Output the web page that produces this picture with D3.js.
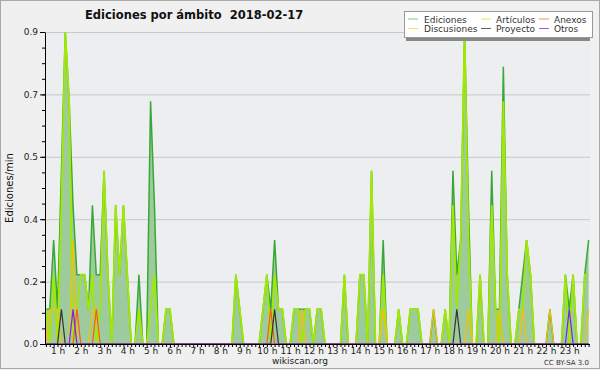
<!DOCTYPE html>
<html>
<head>
<meta charset="utf-8">
<script src="https://cdn.jsdelivr.net/npm/d3@7"></script>
<style>
  body { margin: 0; background: #f0f0f0; }
  svg { display: block; font-family: "DejaVu Sans", sans-serif; }
</style>
</head>
<body>
<svg width="600" height="370"></svg>
<script>
// edits per minute, one value per 10 minutes (6 per hour), 00:00 .. 23:20
var ediciones = [
  0.1, 0.1, 0.3, 0.1, 0.5, 0.9,
  0.7, 0.4, 0.2, 0.2, 0.2, 0.1,
  0.4, 0.2, 0.2, 0.5, 0.2, 0,
  0.4, 0.2, 0.4, 0.2, 0, 0,
  0.2, 0, 0, 0.7, 0.4, 0,
  0, 0.1, 0.1, 0, 0, 0,
  0, 0, 0, 0, 0, 0,
  0, 0, 0, 0, 0, 0,
  0, 0.2, 0.1, 0, 0, 0,
  0, 0, 0.1, 0.2, 0.1, 0.3,
  0.1, 0.1, 0, 0, 0.1, 0.1,
  0.1, 0.1, 0.1, 0, 0.1, 0.1,
  0, 0, 0, 0, 0, 0.2,
  0, 0, 0, 0.2, 0.2, 0,
  0.5, 0, 0, 0.3, 0, 0,
  0, 0.1, 0, 0, 0.1, 0.1,
  0.1, 0, 0, 0, 0.1, 0,
  0, 0.1, 0, 0.5, 0.2, 0.3,
  0.9, 0.4, 0, 0, 0.2, 0,
  0, 0.5, 0.1, 0.1, 0.8, 0.2,
  0, 0, 0.1, 0.2, 0.3, 0.2,
  0, 0, 0, 0, 0.1, 0,
  0, 0, 0.2, 0.1, 0.2, 0,
  0, 0.2, 0.3
];
var articulos = [
  0.1, 0, 0.2, 0, 0.4, 0.9,
  0.7, 0, 0.1, 0.2, 0.2, 0.1,
  0.2, 0, 0.1, 0.5, 0.2, 0,
  0.4, 0.2, 0.4, 0.2, 0, 0,
  0.1, 0, 0, 0.1, 0.2, 0,
  0, 0.1, 0.1, 0, 0, 0,
  0, 0, 0, 0, 0, 0,
  0, 0, 0, 0, 0, 0,
  0, 0.2, 0.1, 0, 0, 0,
  0, 0, 0.1, 0.2, 0, 0.2,
  0.1, 0.1, 0, 0, 0.1, 0.1,
  0, 0.1, 0.1, 0, 0.1, 0.1,
  0, 0, 0, 0, 0, 0.2,
  0, 0, 0, 0.2, 0.2, 0,
  0.5, 0, 0, 0.2, 0, 0,
  0, 0.1, 0, 0, 0.1, 0.1,
  0.1, 0, 0, 0, 0, 0,
  0, 0.1, 0, 0.4, 0.1, 0.3,
  0.9, 0.3, 0, 0, 0.2, 0,
  0, 0.4, 0.1, 0, 0.7, 0.2,
  0, 0, 0.1, 0.1, 0.3, 0.2,
  0, 0, 0, 0, 0, 0,
  0, 0, 0.2, 0, 0.2, 0,
  0, 0.2, 0.2
];
var discusiones = [
  0, 0.1, 0.1, 0.1, 0, 0,
  0, 0.3, 0, 0, 0, 0,
  0.1, 0.1, 0, 0, 0, 0,
  0, 0, 0, 0, 0, 0,
  0, 0, 0, 0, 0, 0,
  0, 0, 0, 0, 0, 0,
  0, 0, 0, 0, 0, 0,
  0, 0, 0, 0, 0, 0,
  0, 0, 0, 0, 0, 0,
  0, 0, 0, 0, 0, 0,
  0, 0, 0, 0, 0, 0,
  0.1, 0, 0, 0, 0, 0,
  0, 0, 0, 0, 0, 0,
  0, 0, 0, 0, 0, 0,
  0, 0, 0, 0.1, 0, 0,
  0, 0, 0, 0, 0, 0,
  0, 0, 0, 0, 0.1, 0,
  0, 0, 0, 0, 0, 0,
  0, 0.1, 0, 0, 0, 0,
  0, 0, 0, 0.1, 0, 0,
  0, 0, 0, 0.1, 0, 0,
  0, 0, 0, 0, 0.1, 0,
  0, 0, 0, 0, 0, 0,
  0, 0, 0.1
];
var anexos = [
  0, 0, 0, 0, 0, 0,
  0, 0, 0.1, 0, 0, 0,
  0, 0.1, 0, 0, 0, 0,
  0, 0, 0, 0, 0, 0,
  0, 0, 0, 0, 0, 0,
  0, 0, 0, 0, 0, 0,
  0, 0, 0, 0, 0, 0,
  0, 0, 0, 0, 0, 0,
  0, 0, 0, 0, 0, 0,
  0, 0, 0, 0, 0.1, 0,
  0, 0, 0, 0, 0, 0,
  0, 0, 0, 0, 0, 0,
  0, 0, 0, 0, 0, 0,
  0, 0, 0, 0, 0, 0,
  0, 0, 0, 0, 0, 0,
  0, 0, 0, 0, 0, 0,
  0, 0, 0, 0, 0, 0,
  0, 0, 0, 0, 0, 0,
  0, 0, 0, 0, 0, 0,
  0, 0, 0, 0, 0, 0,
  0, 0, 0, 0, 0, 0,
  0, 0, 0, 0, 0, 0,
  0, 0, 0, 0, 0, 0,
  0, 0, 0
];
var proyecto = [
  0, 0, 0, 0, 0.1, 0,
  0, 0, 0, 0, 0, 0,
  0, 0, 0, 0, 0, 0,
  0, 0, 0, 0, 0, 0,
  0, 0, 0, 0, 0, 0,
  0, 0, 0, 0, 0, 0,
  0, 0, 0, 0, 0, 0,
  0, 0, 0, 0, 0, 0,
  0, 0, 0, 0, 0, 0,
  0, 0, 0, 0, 0, 0.1,
  0, 0, 0, 0, 0, 0,
  0, 0, 0, 0, 0, 0,
  0, 0, 0, 0, 0, 0,
  0, 0, 0, 0, 0, 0,
  0, 0, 0, 0, 0, 0,
  0, 0, 0, 0, 0, 0,
  0, 0, 0, 0, 0, 0,
  0, 0, 0, 0, 0.1, 0,
  0, 0, 0, 0, 0, 0,
  0, 0, 0, 0, 0, 0,
  0, 0, 0, 0, 0, 0,
  0, 0, 0, 0, 0, 0,
  0, 0, 0, 0, 0, 0,
  0, 0, 0
];
var otros = [
  0, 0, 0, 0, 0, 0,
  0, 0.1, 0, 0, 0, 0,
  0, 0, 0, 0, 0, 0,
  0, 0, 0, 0, 0, 0,
  0, 0, 0, 0, 0, 0,
  0, 0, 0, 0, 0, 0,
  0, 0, 0, 0, 0, 0,
  0, 0, 0, 0, 0, 0,
  0, 0, 0, 0, 0, 0,
  0, 0, 0, 0, 0, 0,
  0, 0, 0, 0, 0, 0,
  0, 0, 0, 0, 0, 0,
  0, 0, 0, 0, 0, 0,
  0, 0, 0, 0, 0, 0,
  0, 0, 0, 0, 0, 0,
  0, 0, 0, 0, 0, 0,
  0, 0, 0, 0, 0, 0,
  0, 0, 0, 0, 0, 0,
  0, 0, 0, 0, 0, 0,
  0, 0, 0, 0, 0, 0,
  0, 0, 0, 0, 0, 0,
  0, 0, 0, 0, 0, 0,
  0, 0, 0, 0.1, 0, 0,
  0, 0, 0
];
var hourLabels = d3.range(1, 24).map(function (h) { return h + " h"; });
var yMax = 0.9;

var series = [
  { name: "Artículos", values: articulos, color: "#a2e800", key: "#c8f060" },
  { name: "Discusiones", values: discusiones, color: "#f7c000", key: "#ffd860" },
  { name: "Anexos", values: anexos, color: "#ff5a10", key: "#f09060" },
  { name: "Proyecto", values: proyecto, color: "#333333", key: "#606060" },
  { name: "Otros", values: otros, color: "#7a20ff", key: "#9a5cf0" }
];

var svg = d3.select("svg");
var width = +svg.attr("width");
var height = +svg.attr("height");
var plot = { left: 45, right: 590, top: 32, bottom: 344 };

svg.append("rect")
  .attr("x", 0.5).attr("y", 0.5)
  .attr("width", width - 1).attr("height", height - 2)
  .style("fill", "#f0f0f0")
  .style("stroke", "#a8a8a8");

svg.append("rect")
  .attr("x", plot.left).attr("y", plot.top)
  .attr("width", plot.right - plot.left).attr("height", plot.bottom - plot.top)
  .style("fill", "#eceef0");

// hours of the day; the drawing stops a little before midnight
var x = d3.scaleLinear().domain([0, 24]).range([45.9, 45.9 + 24 * 23.26]);
var y = d3.scaleLinear().domain([0, yMax]).range([plot.bottom, plot.top]);

var majorY = d3.range(0, 6).map(function (k) { return (k * yMax) / 5; });
var minorY = d3.range(0, 21).map(function (k) { return (k * yMax) / 20; });

svg.append("g")
  .attr("class", "grid")
  .attr("transform", "translate(" + plot.left + ",0)")
  .call(d3.axisLeft(y).tickValues(majorY).tickSize(-(plot.right - plot.left)).tickFormat(""))
  .call(function (g) {
    g.select(".domain").remove();
    g.selectAll("line").style("stroke", "#c8c8c8");
  });

svg.append("clipPath")
  .attr("id", "clip")
  .append("rect")
  .attr("x", plot.left).attr("y", 0)
  .attr("width", plot.right - plot.left).attr("height", plot.bottom);

var line = d3.line()
  .x(function (d, i) { return x(i / 6); })
  .y(function (d) { return y(d); });

var area = d3.area()
  .x(function (d, i) { return x(i / 6); })
  .y0(y(0))
  .y1(function (d) { return y(d); });

var canvas = svg.append("g").attr("clip-path", "url(#clip)");

canvas.append("path")
  .attr("d", area(ediciones))
  .style("fill", "#9ecb9e");

canvas.append("path")
  .attr("d", line(ediciones))
  .style("fill", "none")
  .style("stroke", "#38a838")
  .style("stroke-width", 1.5);

canvas.selectAll("path.serie")
  .data(series)
  .enter()
  .append("path")
  .classed("serie", true)
  .attr("d", function (d) { return line(d.values); })
  .style("fill", "none")
  .style("stroke", function (d) { return d.color; })
  .style("stroke-width", function (d, i) { return i == 0 ? 1.8 : 1.2; });

// axes
var xTicks = d3.range(0, 141).map(function (i) { return i / 6; });
svg.append("g")
  .attr("transform", "translate(0," + plot.bottom + ")")
  .call(d3.axisBottom(x).tickValues(xTicks).tickSize(3).tickSizeOuter(0).tickFormat(""))
  .call(function (g) {
    g.select(".domain").attr("d", "M" + plot.left + ",0.5H" + plot.right).style("stroke", "#000");
    g.selectAll("line").style("stroke", "#000");
  });

svg.append("g")
  .attr("transform", "translate(0," + plot.bottom + ")")
  .call(d3.axisBottom(x)
    .tickValues(hourLabels.map(function (t, i) { return i + 0.5; }))
    .tickSize(0)
    .tickPadding(4)
    .tickFormat(function (d, i) { return hourLabels[i]; }))
  .call(function (g) {
    g.select(".domain").remove();
    g.selectAll("text")
      .attr("dy", "0.71em")
      .style("font-family", "DejaVu Sans")
      .style("font-size", "9px")
      .style("fill", "#222");
  });

svg.append("g")
  .attr("transform", "translate(" + plot.left + ",0)")
  .call(d3.axisLeft(y).tickValues(minorY).tickSize(3).tickSizeOuter(0).tickFormat(""))
  .call(function (g) {
    g.selectAll("line").style("stroke", "#000");
    g.select(".domain").style("stroke", "#000");
  });

svg.append("g")
  .attr("transform", "translate(" + plot.left + ",0)")
  .call(d3.axisLeft(y).tickValues(majorY).tickSize(5).tickSizeOuter(0).tickPadding(2).tickFormat(d3.format(".1f")))
  .call(function (g) {
    g.select(".domain").remove();
    g.selectAll("line").style("stroke", "#000");
    g.selectAll("text")
      .style("font-family", "DejaVu Sans")
      .style("font-size", "9px")
      .style("fill", "#222");
  });

// texts
svg.append("text")
  .attr("x", 85).attr("y", 19)
  .style("font-size", "11.5px")
  .style("font-weight", "bold")
  .style("white-space", "pre")
  .style("fill", "#111")
  .text("Ediciones por ámbito  2018-02-17");

svg.append("text")
  .attr("transform", "translate(13," + (plot.top + plot.bottom) / 2 + ") rotate(-90)")
  .attr("text-anchor", "middle")
  .style("font-size", "10px")
  .style("fill", "#111")
  .text("Ediciones/min");

svg.append("text")
  .attr("x", 300).attr("y", 364)
  .attr("text-anchor", "middle")
  .style("font-size", "9px")
  .style("fill", "#222")
  .text("wikiscan.org");

svg.append("text")
  .attr("x", 589).attr("y", 365)
  .attr("text-anchor", "end")
  .style("font-size", "7px")
  .style("fill", "#333")
  .text("CC BY-SA 3.0");

// legend
var legendItems = [
  { name: "Ediciones", key: "#80d080" }
].concat(series.map(function (s) { return { name: s.name, key: s.key }; }));
var legendOrder = ["Ediciones", "Artículos", "Anexos", "Discusiones", "Proyecto", "Otros"];
legendItems.sort(function (a, b) { return legendOrder.indexOf(a.name) - legendOrder.indexOf(b.name); });

var legend = svg.append("g");
legend.append("rect")
  .attr("x", 406).attr("y", 14)
  .attr("width", 184).attr("height", 27)
  .style("fill", "#888");
legend.append("rect")
  .attr("x", 404.5).attr("y", 11.5)
  .attr("width", 188).attr("height", 26)
  .style("fill", "#fff")
  .style("stroke", "#999");

var colX = [408, 481, 539];
var item = legend.selectAll("g.item")
  .data(legendItems)
  .enter()
  .append("g")
  .attr("transform", function (d, i) {
    return "translate(" + colX[i % 3] + "," + (i < 3 ? 19 : 28.5) + ")";
  });
item.append("line")
  .attr("x1", 0).attr("x2", 10)
  .style("stroke", function (d) { return d.key; })
  .style("stroke-width", 1);
item.append("text")
  .attr("x", function (d, i) { return i % 3 == 0 ? 16 : 15; })
  .attr("y", 3.5)
  .style("font-size", "9px")
  .style("fill", "#333")
  .text(function (d) { return d.name; });
</script>
</body>
</html>
